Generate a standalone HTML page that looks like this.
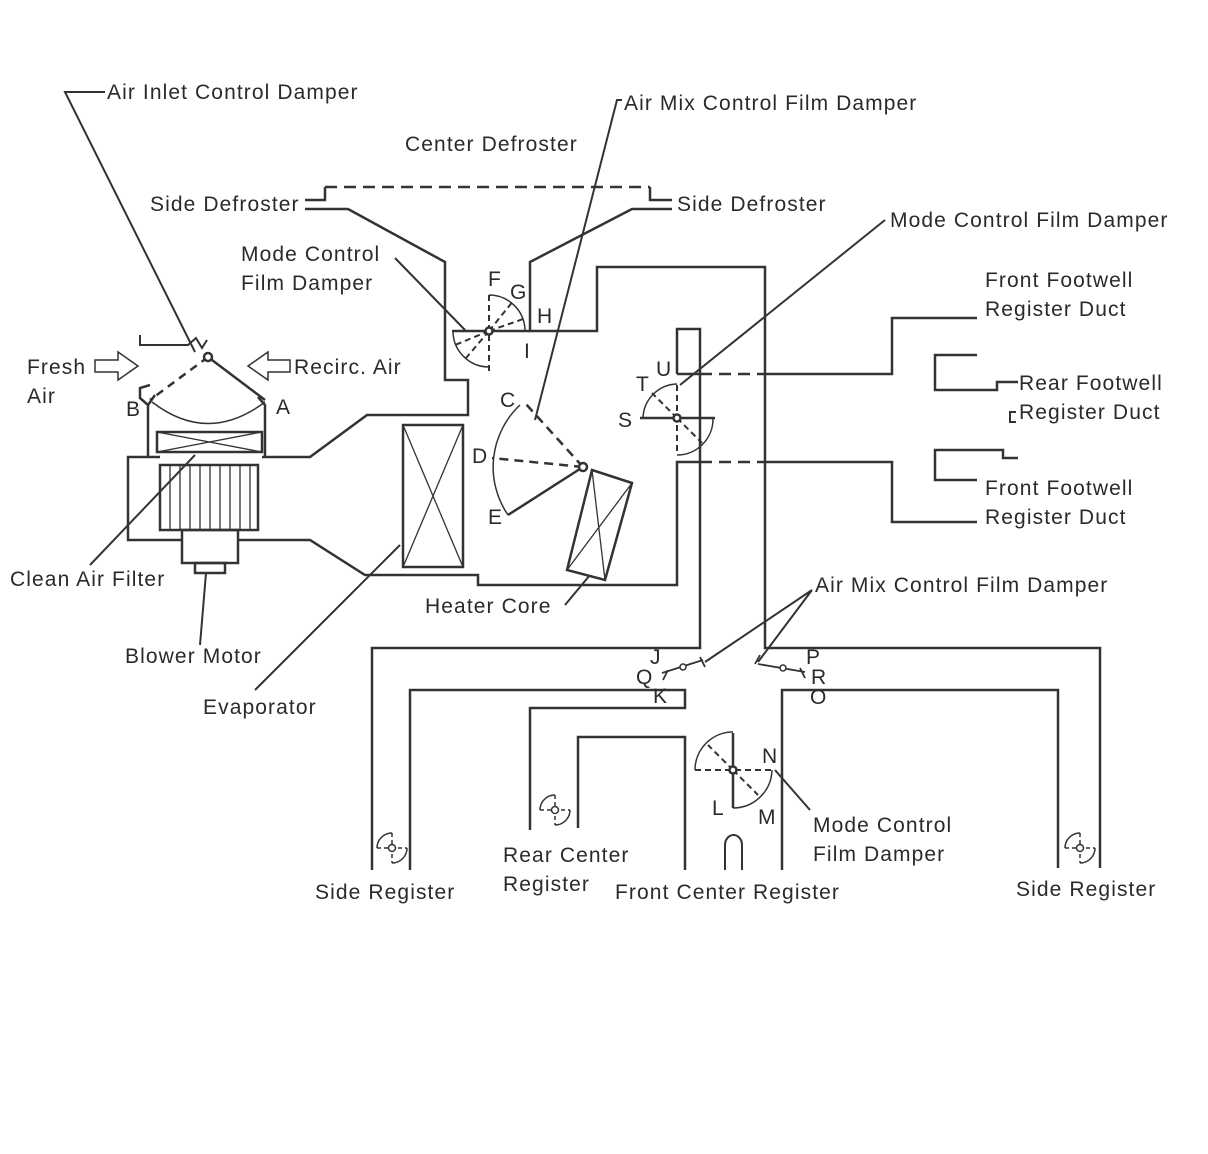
<!DOCTYPE html>
<html><head><meta charset="utf-8"><style>
html,body{margin:0;padding:0;background:#fff;}
svg{display:block;}
text{font-family:"Liberation Sans",Arial,sans-serif;font-size:21px;letter-spacing:1.1px;fill:#2a2a2a;}
</style></head><body>
<svg width="1208" height="1154" viewBox="0 0 1208 1154" xmlns="http://www.w3.org/2000/svg">
<g fill="none" stroke="#333" stroke-width="2.5" stroke-linejoin="miter">
<path d="M305,200 H325 V187"/>
<path d="M325,187 H650" stroke-dasharray="12,7"/>
<path d="M650,187 V200 H672"/>
<path d="M305,209 H348 L445,262 V380 H468 V415 H367 L310,457 H262"/>
<path d="M672,209 H632 L530,262 V331 H597 V267 H765 V648 H1100 V868"/>
<path d="M160,457 H128 V540 H182"/>
<path d="M238,540 H310 L365,575 H478 V585 H677 V462 H700"/>
<path d="M700,462 H763" stroke-dasharray="12,7"/>
<path d="M763,462 H892 V522 H977"/>
<path d="M677,374 V329 H700 V648 H372 V870"/>
<path d="M677,374 H700"/>
<path d="M700,374 H763" stroke-dasharray="12,7"/>
<path d="M763,374 H892 V318 H977"/>
<path d="M977,355 H935 V390 H997 V382 H1018"/>
<path d="M1016,412 H1010 V422 H1016" stroke-width="2"/>
<path d="M977,480 H935 V450 H1003 V458 H1018"/>
<path d="M410,870 V690 H685 V708 H530 V830"/>
<path d="M578,828 V737 H685 V870"/>
<path d="M782,870 V690 H1058 V868"/>
<path d="M725,870 V845 A8.5,10 0 0 1 742,845 V870" stroke-width="2"/>
<path d="M148,457 V405 L155,395 M148,405 L140,398 V388 L150,385"/>
<path d="M265,457 V405 L258,397"/>
<rect x="157" y="432" width="105" height="20"/>
<path d="M157,432 L262,452 M262,432 L157,452" stroke-width="1.3"/>
<rect x="160" y="465" width="98" height="65"/>
<path d="M170,465V530M180,465V530M190,465V530M200,465V530M210,465V530M220,465V530M230,465V530M240,465V530M250,465V530" stroke-width="1.3"/>
<rect x="182" y="530" width="56" height="33"/>
<rect x="195" y="563" width="30" height="10"/>
<path d="M140,335 V345 H188 L196,338 L202,348 L207,340" stroke-width="2"/>
<path d="M208,357 L150,400" stroke-dasharray="8,6"/>
<path d="M208,357 L265,400"/>
<path d="M152,402 Q208,445 265,402" stroke-width="1.5"/>
<circle cx="208" cy="357" r="4" fill="#fff"/>
<path d="M95,360 H118 V352 L138,366 L118,380 V372 H95 Z" stroke-width="1.5"/>
<path d="M290,360 H268 V352 L248,366 L268,380 V372 H290 Z" stroke-width="1.5"/>
<rect x="403" y="425" width="60" height="142"/>
<path d="M403,425 L463,567 M463,425 L403,567" stroke-width="1.3"/>
<path d="M592,470 L632,483 L605,580 L567,570 Z"/>
<path d="M592,470 L605,580 M632,483 L567,570" stroke-width="1.3"/>
<path d="M452,331 H530"/>
<path d="M489,295 V375" stroke-dasharray="6,4" stroke-width="2"/>
<path d="M489,331 L514,300 M489,331 L526,318 M489,331 L455,345 M489,331 L466,358" stroke-dasharray="6,4" stroke-width="2"/>
<path d="M489,295 A36,36 0 0 1 525,331" stroke-width="1.5"/>
<path d="M453,331 A36,36 0 0 0 489,367" stroke-width="1.5"/>
<circle cx="489" cy="331" r="3.5" fill="#fff"/>
<path d="M583,467 L525,403 M583,467 L492,458" stroke-dasharray="9,6"/>
<path d="M583,467 L508,515"/>
<path d="M520,405 A85,85 0 0 0 508,515" stroke-width="1.5"/>
<circle cx="583" cy="467" r="4" fill="#fff"/>
<path d="M640,418 H715"/>
<path d="M677,385 V455" stroke-dasharray="6,4" stroke-width="2"/>
<path d="M677,418 L652,393 M677,418 L702,443" stroke-dasharray="6,4" stroke-width="2"/>
<path d="M643,418 A35,35 0 0 1 677,384" stroke-width="1.5"/>
<path d="M713,418 A36,36 0 0 1 677,455" stroke-width="1.5"/>
<circle cx="677" cy="418" r="3.5" fill="#fff"/>
<path d="M695,770 H775" stroke-dasharray="6,4" stroke-width="2"/>
<path d="M733,733 V808"/>
<path d="M733,770 L708,745 M733,770 L758,795" stroke-dasharray="6,4" stroke-width="2"/>
<path d="M695,770 A38,38 0 0 1 733,732" stroke-width="1.5"/>
<path d="M772,770 A39,39 0 0 1 733,808" stroke-width="1.5"/>
<circle cx="733" cy="770" r="3.5" fill="#fff"/>
<path d="M662,673 L703,660 M663,680 L668,670 M700,657 L705,667" stroke-width="1.8"/>
<circle cx="683" cy="667" r="3" fill="#fff" stroke-width="1.5"/>
<path d="M758,664 L805,672 M760,655 L755,664 M800,668 L805,678" stroke-width="1.8"/>
<circle cx="783" cy="668" r="3" fill="#fff" stroke-width="1.5"/>
<g stroke-width="1.5">
<path d="M392,833 A15,15 0 0 0 377,848 M407,848 A15,15 0 0 1 392,863"/><path d="M377,848H407 M392,833V863" stroke-dasharray="4,3"/><circle cx="392" cy="848" r="3.5" fill="#fff"/>
<path d="M555,795 A15,15 0 0 0 540,810 M570,810 A15,15 0 0 1 555,825"/><path d="M540,810H570 M555,795V825" stroke-dasharray="4,3"/><circle cx="555" cy="810" r="3.5" fill="#fff"/>
<path d="M1080,833 A15,15 0 0 0 1065,848 M1095,848 A15,15 0 0 1 1080,863"/><path d="M1065,848H1095 M1080,833V863" stroke-dasharray="4,3"/><circle cx="1080" cy="848" r="3.5" fill="#fff"/>
</g>
<g stroke-width="2">
<path d="M105,92 H65 L195,352"/>
<path d="M622,100 H617 L535,420"/>
<path d="M885,220 L680,385"/>
<path d="M395,258 L465,330"/>
<path d="M90,565 L195,455"/>
<path d="M200,645 L206,573"/>
<path d="M255,690 L400,545"/>
<path d="M565,605 L590,575"/>
<path d="M812,590 L705,662 M812,590 L758,662"/>
<path d="M810,810 L775,770"/>
</g>
</g>
<text x="107" y="99">Air Inlet Control Damper</text>
<text x="624" y="110">Air Mix Control Film Damper</text>
<text x="405" y="151">Center Defroster</text>
<text x="150" y="211">Side Defroster</text>
<text x="677" y="211">Side Defroster</text>
<text x="890" y="227">Mode Control Film Damper</text>
<text x="241" y="261">Mode Control</text>
<text x="241" y="290">Film Damper</text>
<text x="985" y="287">Front Footwell</text>
<text x="985" y="316">Register Duct</text>
<text x="27" y="374">Fresh</text>
<text x="27" y="403">Air</text>
<text x="294" y="374">Recirc. Air</text>
<text x="1019" y="390">Rear Footwell</text>
<text x="1019" y="419">Register Duct</text>
<text x="985" y="495">Front Footwell</text>
<text x="985" y="524">Register Duct</text>
<text x="10" y="586">Clean Air Filter</text>
<text x="425" y="613">Heater Core</text>
<text x="815" y="592">Air Mix Control Film Damper</text>
<text x="125" y="663">Blower Motor</text>
<text x="203" y="714">Evaporator</text>
<text x="813" y="832">Mode Control</text>
<text x="813" y="861">Film Damper</text>
<text x="503" y="862">Rear Center</text>
<text x="503" y="891">Register</text>
<text x="315" y="899">Side Register</text>
<text x="615" y="899">Front Center Register</text>
<text x="1016" y="896">Side Register</text>
<text x="126" y="416">B</text><text x="276" y="414">A</text>
<text x="488" y="286">F</text><text x="510" y="299">G</text><text x="537" y="323">H</text><text x="524" y="358">I</text>
<text x="500" y="407">C</text><text x="472" y="463">D</text><text x="488" y="524">E</text>
<text x="656" y="376">U</text><text x="636" y="391">T</text><text x="618" y="427">S</text>
<text x="650" y="664">J</text><text x="636" y="684">Q</text><text x="653" y="703">K</text>
<text x="806" y="664">P</text><text x="811" y="684">R</text><text x="810" y="704">O</text>
<text x="762" y="763">N</text><text x="712" y="815">L</text><text x="758" y="824">M</text>
</svg>
</body></html>
